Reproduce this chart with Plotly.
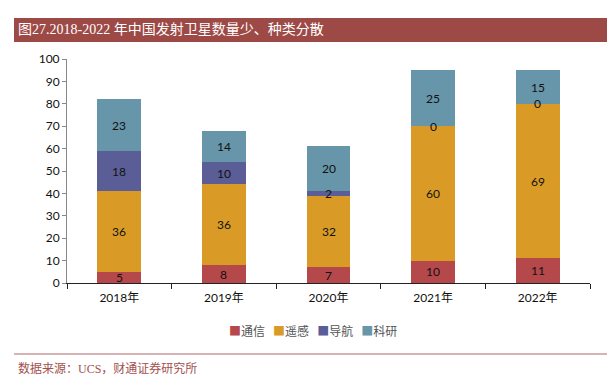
import plotly.graph_objects as go

years = ["2018年", "2019年", "2020年", "2021年", "2022年"]
tongxin = [5, 8, 7, 10, 11]
yaogan = [36, 36, 32, 60, 69]
daohang = [18, 10, 2, 0, 0]
keyan = [23, 14, 20, 25, 15]

series = [("通信", tongxin, "#B5484A"), ("遥感", yaogan, "#DA9B26"),
          ("导航", daohang, "#5B5E96"), ("科研", keyan, "#6795A9")]

O = 8  # browser body margin
W, H = 615 - O, 380 - O
# plot area in page pixels
PL, PR, PT, PB = 67, 590, 59, 283
L, R, T, B = PL - O, W - (PR - O), PT - O, H - (PB - O)
pw, ph = PR - PL, PB - PT

def px(x):
    return (x - PL) / pw

def py(y):
    return (PB - y) / ph

fig = go.Figure()
annotations = []
base = [0] * len(years)
for name, vals, col in series:
    fig.add_trace(go.Bar(x=years, y=vals, name=name, marker_color=col,
                         marker_line_width=0, width=0.42, showlegend=False))
    for i, v in enumerate(vals):
        annotations.append(dict(x=years[i], y=base[i] + v / 2, text=str(v),
                                showarrow=False, xref="x", yref="y",
                                font=dict(family="Lato, Liberation Sans", size=12, color="#111")))
        base[i] += v

legend_text = "&nbsp;&nbsp;&nbsp;".join(
    f"<span style='color:{col}'>■</span>{name}" for name, _, col in series)
annotations.append(dict(x=px(313), y=py(330), xref="paper", yref="paper", xanchor="center",
                        yanchor="middle", showarrow=False, text=legend_text,
                        font=dict(family="Noto Sans CJK SC", size=12, color="#555")))

annotations.append(dict(x=px(16), y=py(30), xref="paper", yref="paper", xanchor="left",
                        yanchor="middle", showarrow=False,
                        text="图27.2018-2022 年中国发射卫星数量少、种类分散",
                        font=dict(family="Liberation Serif, Noto Sans CJK SC", size=14, color="white")))
annotations.append(dict(x=px(16), y=py(368), xref="paper", yref="paper", xanchor="left",
                        yanchor="middle", showarrow=False,
                        text="数据来源：UCS，财通证券研究所",
                        font=dict(family="Liberation Serif, Noto Sans CJK SC", size=12, color="#A2504E")))

shapes = [
    dict(type="rect", xref="paper", yref="paper", x0=px(14), x1=px(616), y0=py(42), y1=py(18),
         fillcolor="#9D4A47", line_width=0, layer="below"),
    dict(type="line", xref="paper", yref="paper", x0=px(14), x1=px(610), y0=py(354), y1=py(354),
         line=dict(color="#B06A68", width=1)),
]

fig.update_layout(
    barmode="stack", width=W, height=H,
    margin=dict(l=L, r=R, t=T, b=B, autoexpand=False),
    paper_bgcolor="white", plot_bgcolor="white",
    showlegend=False,
    annotations=annotations, shapes=shapes,
    font=dict(family="Lato, Liberation Sans", size=12, color="#111"),
)
fig.update_yaxes(range=[0, 100], dtick=10, showgrid=False, showline=True, linecolor="#888",
                 linewidth=1, ticks="outside", ticklen=4, tickcolor="#888",
                 tickfont=dict(family="Lato, Liberation Sans", size=12, color="#111"), zeroline=False)
fig.update_xaxes(showgrid=False, showline=True, linecolor="#222", linewidth=1, ticks="outside",
                 tickson="boundaries", ticklen=5, tickcolor="#222", ticklabelstandoff=4,
                 tickfont=dict(family="Lato, Noto Sans CJK SC", size=12, color="#111"))

fig.write_html("out.html")
